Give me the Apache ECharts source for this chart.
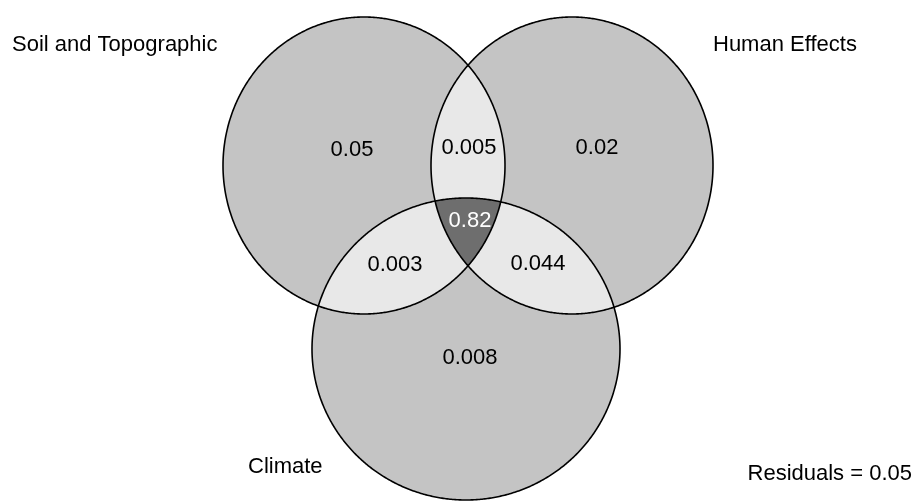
<!DOCTYPE html>
<html>
<head>
<meta charset="utf-8">
<script src="https://cdn.jsdelivr.net/npm/echarts@6/dist/echarts.min.js"></script>
<style>
  html, body { margin: 0; padding: 0; background: #ffffff; }
  #chart { width: 921px; height: 501px; }
</style>
</head>
<body>
<div id="chart"></div>
<script>
// Variance partitioning between three groups of predictors
const setNames = ['Soil and Topographic', 'Human Effects', 'Climate'];
// Each region is listed by the sets it belongs to
const regionSets = [[0], [1], [2], [0, 1], [0, 2], [1, 2], [0, 1, 2]];
const regionValues = [0.05, 0.02, 0.008, 0.005, 0.003, 0.044, 0.82];
const residualValue = 0.05;

// Layout: one ellipse per set, in plot units (one unit = one pixel)
const setShapes = [
  { cx: 364, cy: 165.5, rx: 141, ry: 148.5 },
  { cx: 572, cy: 165.5, rx: 141, ry: 148.5 },
  { cx: 466, cy: 349, rx: 154, ry: 151 }
];
const regionLabelAt = [[352, 150], [597, 148], [470, 358], [469, 148], [395, 265], [538, 264], [470, 221]];
const setLabelAt = [[12, 45], [713, 45], [248, 467]];
const residualLabelAt = [912, 474];

const fillByDegree = { 1: '#c4c4c4', 2: '#e8e8e8', 3: '#6e6e6e' };
const FONT = '22px "Liberation Sans", Arial, sans-serif';

function inside(p, s) {
  const dx = (p[0] - s.cx) / s.rx, dy = (p[1] - s.cy) / s.ry;
  return dx * dx + dy * dy <= 1 + 1e-9;
}

function ellipsePoints(s, n) {
  const pts = [];
  for (let k = 0; k < n; k++) {
    const t = 2 * Math.PI * k / n;
    pts.push([s.cx + s.rx * Math.cos(t), s.cy + s.ry * Math.sin(t)]);
  }
  return pts;
}

// Intersection of the given ellipses (convex), as a polygon
function intersectionPolygon(ids) {
  const pts = [];
  ids.forEach(i => {
    ellipsePoints(setShapes[i], 1440).forEach(p => {
      if (ids.every(j => j === i || inside(p, setShapes[j]))) pts.push(p);
    });
  });
  let mx = 0, my = 0;
  pts.forEach(p => { mx += p[0]; my += p[1]; });
  mx /= pts.length; my /= pts.length;
  pts.sort((a, b) => Math.atan2(a[1] - my, a[0] - mx) - Math.atan2(b[1] - my, b[0] - mx));
  return pts;
}

const chart = echarts.init(document.getElementById('chart'), null, { renderer: 'canvas' });

chart.setOption({
  animation: false,
  backgroundColor: '#ffffff',
  grid: { left: 0, right: 0, top: 0, bottom: 0 },
  xAxis: { type: 'value', min: 0, max: 921, show: false },
  yAxis: { type: 'value', min: 0, max: 501, inverse: true, show: false },
  series: [
    {
      // filled regions: whole sets first, then overlaps on top
      type: 'custom',
      z: 1,
      silent: true,
      data: regionSets.map((s, i) => [i, regionValues[i]]),
      renderItem: function (params, api) {
        const ids = regionSets[params.dataIndex];
        const pts = intersectionPolygon(ids).map(p => api.coord(p));
        return {
          type: 'polygon',
          shape: { points: pts },
          style: { fill: fillByDegree[ids.length], stroke: null }
        };
      }
    },
    {
      // set outlines
      type: 'custom',
      z: 2,
      silent: true,
      data: setNames.map((n, i) => [i, 0]),
      renderItem: function (params, api) {
        const pts = ellipsePoints(setShapes[params.dataIndex], 720).map(p => api.coord(p));
        return {
          type: 'polygon',
          shape: { points: pts },
          style: { fill: null, stroke: '#000000', lineWidth: 1.6 }
        };
      }
    },
    {
      // region values
      type: 'custom',
      z: 3,
      silent: true,
      data: regionValues.map((v, i) => [i, v]),
      renderItem: function (params, api) {
        const i = params.dataIndex;
        const c = api.coord(regionLabelAt[i]);
        return {
          type: 'text',
          style: {
            text: String(regionValues[i]),
            x: c[0], y: c[1],
            align: 'center', verticalAlign: 'middle',
            font: FONT,
            fill: regionSets[i].length === 3 ? '#ffffff' : '#000000'
          }
        };
      }
    },
    {
      // set names and residuals
      type: 'custom',
      z: 3,
      silent: true,
      data: setNames.map((n, i) => [i, 0]).concat([[3, residualValue]]),
      renderItem: function (params, api) {
        const i = params.dataIndex;
        if (i < setNames.length) {
          const c = api.coord(setLabelAt[i]);
          return {
            type: 'text',
            style: {
              text: setNames[i], x: c[0], y: c[1],
              align: 'left', verticalAlign: 'middle',
              font: FONT, fill: '#000000'
            }
          };
        }
        const c = api.coord(residualLabelAt);
        return {
          type: 'text',
          style: {
            text: 'Residuals = ' + residualValue, x: c[0], y: c[1],
            align: 'right', verticalAlign: 'middle',
            font: FONT, fill: '#000000'
          }
        };
      }
    }
  ]
});
</script>
</body>
</html>
